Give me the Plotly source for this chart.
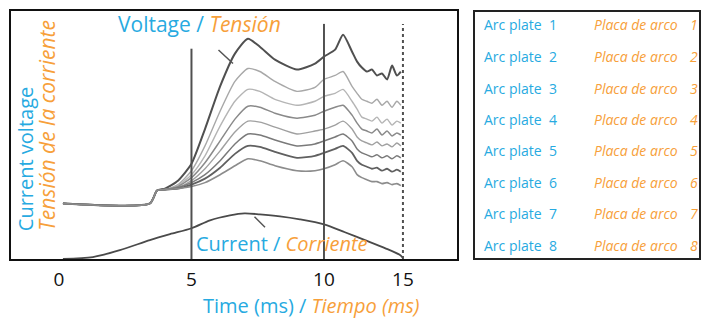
import plotly.graph_objects as go

# ---- data (time in ms along the chart's time axis, values in arbitrary units) ----
time_ms = [0.15, 3.43, 3.70, 4.0, 4.49, 5.0, 5.51, 6.08, 6.64, 7.13, 7.58, 8.15, 8.98, 9.66,
           10.0, 10.42, 10.72, 11.06, 11.25, 11.43, 11.62, 11.81, 12.0, 12.19, 12.38, 12.57, 12.75, 12.9]

plate_1 = [56, 56, 69, 71, 79, 96, 131, 174, 207, 222, 214, 201, 191, 197, 204, 211, 226, 209, 199, 193, 189, 191, 185, 187, 181, 195, 185, 189]
plate_2 = [56, 56, 69, 70, 75, 89, 114, 149, 179, 192, 189, 179, 169, 173, 181, 185, 189, 174, 167, 161, 159, 157, 161, 155, 159, 153, 159, 155]
plate_3 = [56, 56, 69, 70, 74, 85, 104, 134, 159, 171, 169, 161, 155, 159, 164, 167, 171, 159, 151, 143, 141, 139, 143, 137, 141, 135, 139, 137]
plate_4 = [56, 56, 69, 70, 73, 82, 97, 119, 141, 154, 153, 147, 142, 145, 149, 153, 155, 145, 137, 131, 129, 127, 131, 125, 129, 124, 127, 125]
plate_5 = [56, 56, 69, 70, 72, 79, 91, 109, 128, 139, 138, 133, 126, 129, 131, 135, 139, 131, 123, 119, 117, 115, 118, 114, 116, 113, 117, 114]
plate_6 = [56, 56, 69, 70, 72, 77, 85, 99, 116, 126, 125, 120, 114, 116, 119, 123, 126, 119, 111, 107, 105, 103, 105, 102, 104, 101, 104, 102]
plate_7 = [56, 56, 69, 70, 71, 75, 81, 92, 106, 114, 113, 108, 102, 104, 107, 111, 114, 107, 99, 95, 93, 91, 92, 89, 91, 88, 90, 88]
plate_8 = [56, 56, 69, 70, 71, 73, 77, 85, 94, 101, 99, 94, 89, 89, 91, 95, 99, 93, 85, 82, 80, 78, 78, 76, 77, 75, 76, 74]
plates = [plate_1, plate_2, plate_3, plate_4, plate_5, plate_6, plate_7, plate_8]

current_time = [0.15, 1.28, 2.30, 3.43, 4.19, 5.0, 5.7, 6.45, 7.0, 7.58, 8.34, 9.09, 10.0, 10.79, 11.55, 12.3, 12.87, 12.98]
current_vals = [0, 2, 9, 19, 25, 31, 39, 44, 46, 45, 43, 40, 35, 27, 19, 11, 4, 1]

marker_times = [5, 10, 12.98]
tick_pos = [0, 5, 10, 12.98]
tick_text = ["0", "5", "10", "15"]

legend_en = ["Arc plate"] * 8
legend_es = ["Placa de arco"] * 8
legend_num = ["1", "2", "3", "4", "5", "6", "7", "8"]

BLUE = "#27aae1"
ORANGE = "#f7a03a"
FONT = "Open Sans"

# ---- figure ----
fig = go.Figure()
line_colors = ["#505050", "#a8a8a8", "#b5b5b5", "#8a8a8a", "#a0a0a0", "#7a7a7a", "#606060", "#8c8c8c"]
line_widths = [2, 1.4, 1.4, 1.5, 1.4, 1.5, 1.8, 1.6]
for vals, c, w in zip(plates, line_colors, line_widths):
    fig.add_trace(go.Scatter(x=time_ms, y=vals, mode="lines",
                             line=dict(color=c, width=w, shape="spline", smoothing=0.6),
                             showlegend=False, hoverinfo="skip"))
fig.add_trace(go.Scatter(x=current_time, y=current_vals, mode="lines",
                         line=dict(color="#4a4a4a", width=1.8, shape="spline", smoothing=0.8),
                         showlegend=False, hoverinfo="skip"))

# vertical time markers
marker_tops = [212, 237, 237]
for i, (t, top) in enumerate(zip(marker_times, marker_tops)):
    fig.add_shape(type="line", xref="x", yref="y", x0=t, x1=t, y0=0, y1=top,
                  line=dict(color="#505050", width=2, dash="dot" if i == 2 else "solid"))

def px(x):
    return (x - 11) / 446.0

def py(y):
    return (259 - y) / 250.0

# pointer strokes
fig.add_annotation(x=px(233), y=py(62), xref="paper", yref="paper", ax=-16, ay=-15,
                   showarrow=True, arrowhead=0, arrowwidth=1.5, arrowcolor="#555", text="")
fig.add_annotation(x=px(265), y=py(227), xref="paper", yref="paper", ax=-12, ay=-12,
                   showarrow=True, arrowhead=0, arrowwidth=1.5, arrowcolor="#555", text="")

def bi(en, es):
    return (f"<span style='color:{BLUE}'>{en}</span>"
            f"<i><span style='color:{ORANGE}'>{es}</span></i>")

fig.add_annotation(x=px(199), y=py(22), xref="paper", yref="paper", showarrow=False,
                   text=bi("Voltage / ", "Tensión"), font=dict(family=FONT, size=21),
                   xanchor="center", yanchor="middle")
fig.add_annotation(x=px(194), y=py(243), xref="paper", yref="paper", showarrow=False,
                   text=bi("Current / ", "Corriente"), font=dict(family=FONT, size=20),
                   xanchor="left", yanchor="middle")
fig.add_annotation(x=px(25), y=py(233), xref="paper", yref="paper", showarrow=False,
                   text=f"<span style='color:{BLUE}'>Current voltage</span>", textangle=-90,
                   font=dict(family=FONT, size=20), xanchor="center", yanchor="bottom")
fig.add_annotation(x=px(47), y=py(233), xref="paper", yref="paper", showarrow=False,
                   text=f"<i><span style='color:{ORANGE}'>Tensión de la corriente</span></i>",
                   textangle=-90, font=dict(family=FONT, size=21), xanchor="center", yanchor="bottom")
fig.add_annotation(x=px(311), y=py(306), xref="paper", yref="paper", showarrow=False,
                   text=bi("Time (ms) / ", "Tiempo (ms)"), font=dict(family=FONT, size=20),
                   xanchor="center", yanchor="middle")

# legend table
fig.add_shape(type="rect", xref="paper", yref="paper", x0=px(474), x1=px(700), y0=py(259), y1=py(9),
              line=dict(color="#222", width=2))
row_y = [23, 55, 87, 118, 150, 182, 213, 245]
for en, es, n, yy in zip(legend_en, legend_es, legend_num, row_y):
    fig.add_annotation(x=px(482), y=py(yy), xref="paper", yref="paper", showarrow=False,
                       text=en, font=dict(family=FONT, size=14, color=BLUE), xanchor="left", yanchor="middle")
    fig.add_annotation(x=px(553), y=py(yy), xref="paper", yref="paper", showarrow=False,
                       text=n, font=dict(family=FONT, size=14, color=BLUE), xanchor="center", yanchor="middle")
    fig.add_annotation(x=px(592), y=py(yy), xref="paper", yref="paper", showarrow=False,
                       text=f"<i>{es}</i>", font=dict(family=FONT, size=14, color=ORANGE), xanchor="left", yanchor="middle")
    fig.add_annotation(x=px(694), y=py(yy), xref="paper", yref="paper", showarrow=False,
                       text=f"<i>{n}</i>", font=dict(family=FONT, size=14, color=ORANGE), xanchor="center", yanchor="middle")

fig.update_xaxes(range=[-1.81, 15.02], tickvals=tick_pos, ticktext=tick_text,
                 showgrid=False, zeroline=False, showline=True, linecolor="#111", linewidth=2, mirror=True,
                 ticks="outside", ticklen=2, tickcolor="rgba(0,0,0,0)",
                 tickfont=dict(family=FONT, size=19, color="#111"))
fig.update_yaxes(range=[0, 250], showticklabels=False, showgrid=False, zeroline=False,
                 showline=True, linecolor="#111", linewidth=2, mirror=True)
fig.update_layout(width=702, height=324, margin=dict(l=11, r=245, t=9, b=65),
                  plot_bgcolor="white", paper_bgcolor="white", showlegend=False)

fig.write_html("out.html", config={"displayModeBar": False},
               post_script="document.body.style.margin='0';document.body.style.overflow='hidden';")
